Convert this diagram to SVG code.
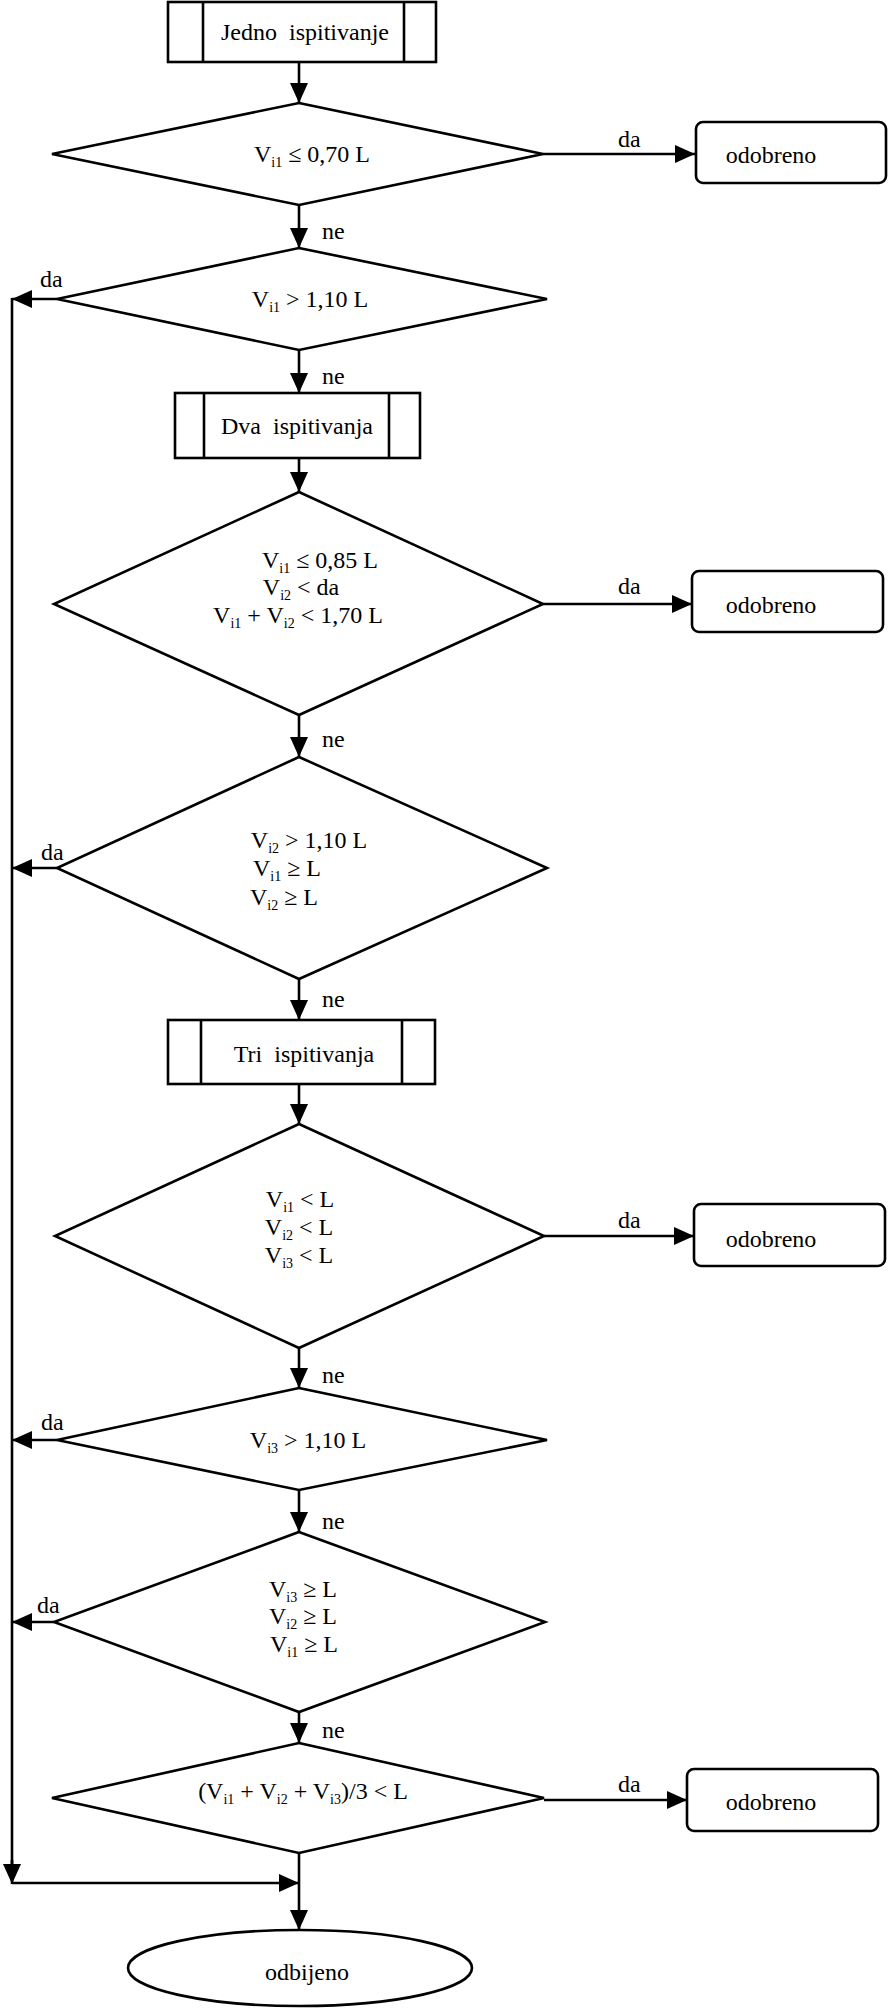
<svg xmlns="http://www.w3.org/2000/svg" width="889" height="2008" viewBox="0 0 889 2008">
<defs>
<style>
.sh{fill:#fff;stroke:#000;stroke-width:2.6}
.ln{fill:none;stroke:#000;stroke-width:2.6}
.ar{fill:none;stroke:#000;stroke-width:2.6;marker-end:url(#ah)}
text{font-family:"Liberation Serif","Times New Roman",serif;font-size:24px;fill:#000}
.m{text-anchor:middle}
.s{font-size:14px}
</style>
<marker id="ah" viewBox="0 0 20 18" refX="20" refY="9" markerWidth="20" markerHeight="18" markerUnits="userSpaceOnUse" orient="auto">
<path d="M0,0 L20,9 L0,18 z" fill="#000"/>
</marker>
</defs>
<rect width="889" height="2008" fill="#fff"/>

<g id="connectors">
<line class="ar" x1="299" y1="62" x2="299" y2="103"/>
<line class="ar" x1="543" y1="154" x2="695" y2="154"/>
<text x="618" y="147">da</text>
<line class="ar" x1="299" y1="205" x2="299" y2="248"/>
<text x="322" y="239">ne</text>
<line class="ar" x1="57" y1="299" x2="12" y2="299"/>
<text x="40" y="287">da</text>
<line class="ln" x1="12" y1="298" x2="12" y2="1870"/>
<line class="ar" x1="299" y1="350" x2="299" y2="393"/>
<text x="322" y="384">ne</text>
<line class="ar" x1="299" y1="458" x2="299" y2="492"/>
<line class="ar" x1="543" y1="604" x2="692" y2="604"/>
<text x="618" y="594">da</text>
<line class="ar" x1="299" y1="715" x2="299" y2="757"/>
<text x="322" y="747">ne</text>
<line class="ar" x1="57" y1="868" x2="12" y2="868"/>
<text x="41" y="860">da</text>
<line class="ar" x1="299" y1="979" x2="299" y2="1020"/>
<text x="322" y="1007">ne</text>
<line class="ar" x1="299" y1="1084" x2="299" y2="1124"/>
<line class="ar" x1="544" y1="1236" x2="694" y2="1236"/>
<text x="618" y="1228">da</text>
<line class="ar" x1="299" y1="1348" x2="299" y2="1388"/>
<text x="322" y="1383">ne</text>
<line class="ar" x1="57" y1="1440" x2="12" y2="1440"/>
<text x="41" y="1430">da</text>
<line class="ar" x1="299" y1="1490" x2="299" y2="1532"/>
<text x="322" y="1529">ne</text>
<line class="ar" x1="54" y1="1622" x2="12" y2="1622"/>
<text x="37" y="1613">da</text>
<line class="ar" x1="299" y1="1712" x2="299" y2="1743"/>
<text x="322" y="1738">ne</text>
<line class="ar" x1="544" y1="1800" x2="687" y2="1800"/>
<text x="618" y="1792">da</text>
<line class="ar" x1="12" y1="1860" x2="12" y2="1884"/>
<line class="ar" x1="12" y1="1883" x2="299" y2="1883"/>
<line class="ar" x1="299" y1="1853" x2="299" y2="1930"/>
</g>

<g id="start1">
<rect class="sh" x="168" y="2" width="268" height="60"/>
<line class="ln" x1="203" y1="2" x2="203" y2="62"/>
<line class="ln" x1="404" y1="2" x2="404" y2="62"/>
<text class="m" x="305" y="40" xml:space="preserve">Jedno  ispitivanje</text>
</g>

<g id="d1">
<polygon class="sh" points="299,103 543,154 299,205 52,154"/>
<text class="m" x="312" y="162">V<tspan class="s" dy="5">i1</tspan><tspan dy="-5"> ≤ 0,70 L</tspan></text>
</g>

<g id="ok1">
<rect class="sh" x="696" y="122" width="190" height="61" rx="7"/>
<text class="m" x="771" y="163">odobreno</text>
</g>

<g id="d2">
<polygon class="sh" points="299,248 547,299 299,350 57,299"/>
<text class="m" x="310" y="307">V<tspan class="s" dy="5">i1</tspan><tspan dy="-5"> &gt; 1,10 L</tspan></text>
</g>

<g id="start2">
<rect class="sh" x="175" y="393" width="245" height="65"/>
<line class="ln" x1="204" y1="393" x2="204" y2="458"/>
<line class="ln" x1="389" y1="393" x2="389" y2="458"/>
<text class="m" x="297" y="434" xml:space="preserve">Dva  ispitivanja</text>
</g>

<g id="d3">
<polygon class="sh" points="299,492 543,604 299,715 54,604"/>
<text class="m" x="320" y="568">V<tspan class="s" dy="5">i1</tspan><tspan dy="-5"> ≤ 0,85 L</tspan></text>
<text class="m" x="301" y="595">V<tspan class="s" dy="5">i2</tspan><tspan dy="-5"> &lt; da</tspan></text>
<text class="m" x="298" y="623">V<tspan class="s" dy="5">i1</tspan><tspan dy="-5"> + V</tspan><tspan class="s" dy="5">i2</tspan><tspan dy="-5"> &lt; 1,70 L</tspan></text>
</g>

<g id="ok2">
<rect class="sh" x="692" y="571" width="191" height="61" rx="7"/>
<text class="m" x="771" y="613">odobreno</text>
</g>

<g id="d4">
<polygon class="sh" points="299,757 547,868 299,979 57,868"/>
<text class="m" x="309" y="848">V<tspan class="s" dy="5">i2</tspan><tspan dy="-5"> &gt; 1,10 L</tspan></text>
<text class="m" x="287" y="876">V<tspan class="s" dy="5">i1</tspan><tspan dy="-5"> ≥ L</tspan></text>
<text class="m" x="284" y="905">V<tspan class="s" dy="5">i2</tspan><tspan dy="-5"> ≥ L</tspan></text>
</g>

<g id="start3">
<rect class="sh" x="168" y="1020" width="267" height="64"/>
<line class="ln" x1="201" y1="1020" x2="201" y2="1084"/>
<line class="ln" x1="402" y1="1020" x2="402" y2="1084"/>
<text class="m" x="304" y="1062" xml:space="preserve">Tri  ispitivanja</text>
</g>

<g id="d5">
<polygon class="sh" points="299,1124 544,1236 299,1348 55,1236"/>
<text class="m" x="300" y="1207">V<tspan class="s" dy="5">i1</tspan><tspan dy="-5"> &lt; L</tspan></text>
<text class="m" x="299" y="1235">V<tspan class="s" dy="5">i2</tspan><tspan dy="-5"> &lt; L</tspan></text>
<text class="m" x="299" y="1263">V<tspan class="s" dy="5">i3</tspan><tspan dy="-5"> &lt; L</tspan></text>
</g>

<g id="ok3">
<rect class="sh" x="694" y="1204" width="191" height="62" rx="7"/>
<text class="m" x="771" y="1247">odobreno</text>
</g>

<g id="d6">
<polygon class="sh" points="299,1388 547,1440 299,1490 57,1440"/>
<text class="m" x="308" y="1448">V<tspan class="s" dy="5">i3</tspan><tspan dy="-5"> &gt; 1,10 L</tspan></text>
</g>

<g id="d7">
<polygon class="sh" points="299,1532 545,1622 299,1712 54,1622"/>
<text class="m" x="303" y="1597">V<tspan class="s" dy="5">i3</tspan><tspan dy="-5"> ≥ L</tspan></text>
<text class="m" x="303" y="1624">V<tspan class="s" dy="5">i2</tspan><tspan dy="-5"> ≥ L</tspan></text>
<text class="m" x="304" y="1652">V<tspan class="s" dy="5">i1</tspan><tspan dy="-5"> ≥ L</tspan></text>
</g>

<g id="d8">
<polygon class="sh" points="299,1743 544,1798 299,1853 52,1798"/>
<text class="m" x="303" y="1799">(V<tspan class="s" dy="5">i1</tspan><tspan dy="-5"> + V</tspan><tspan class="s" dy="5">i2</tspan><tspan dy="-5"> + V</tspan><tspan class="s" dy="5">i3</tspan><tspan dy="-5">)/3 &lt; L</tspan></text>
</g>

<g id="ok4">
<rect class="sh" x="687" y="1769" width="191" height="62" rx="7"/>
<text class="m" x="771" y="1810">odobreno</text>
</g>

<g id="end">
<ellipse class="sh" cx="300" cy="1968" rx="172" ry="38"/>
<text class="m" x="307" y="1980">odbijeno</text>
</g>
</svg>
